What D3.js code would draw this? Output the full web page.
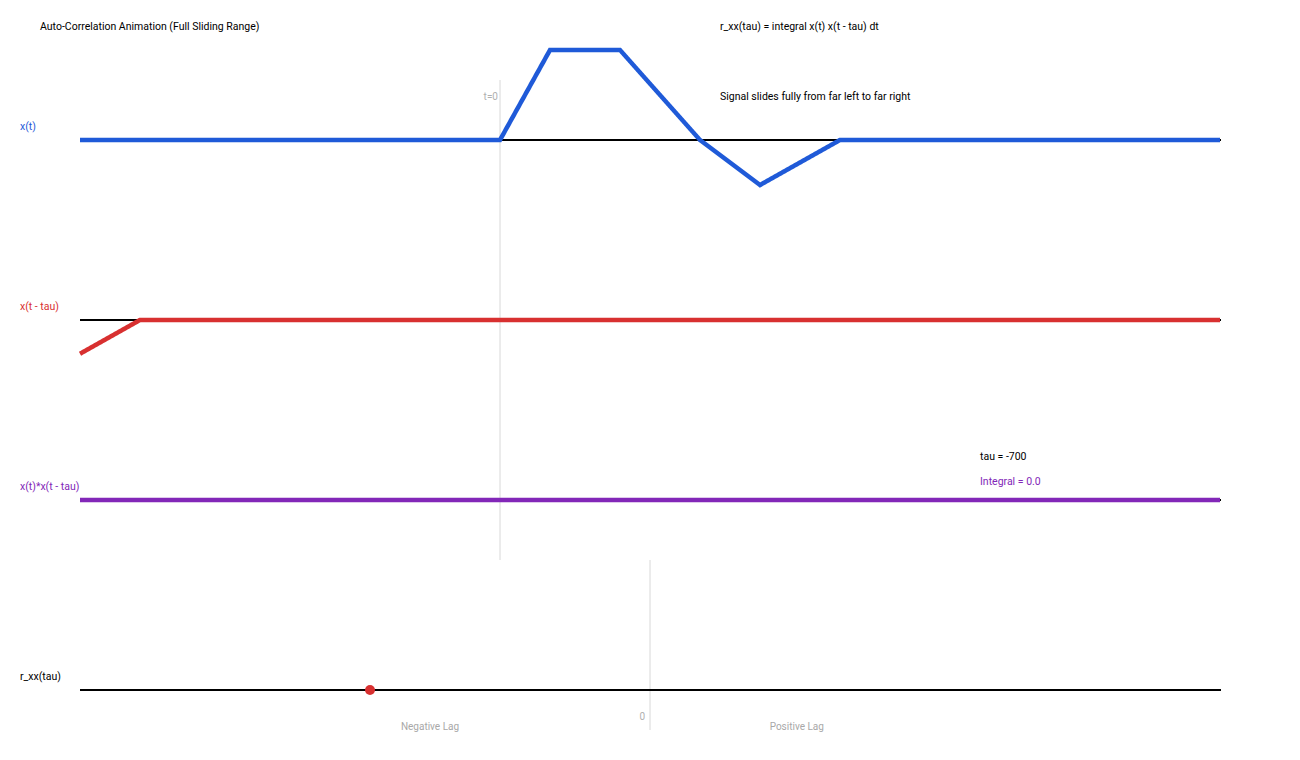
<!DOCTYPE html>
<html><head><meta charset="utf-8">
<script src="https://cdn.jsdelivr.net/npm/d3@7"></script>
<style>body{margin:0;background:#fff}text{font-family:Roboto,"Noto Sans",sans-serif}</style>
</head><body><svg id="c" width="1300" height="760"></svg>
<script>
// Signal breakpoints x(t)
const signalT = [0, 50, 120, 200, 260, 340];
const signalX = [0, 1, 1, 0, -0.5, 0];
const tDomain = [-420, 720];
const tau = -700;
const integralValue = 0.0;
const lagDomain = [-1425, 1425];
const lagLabelPos = [-550, 367];
const rowLabels = ["x(t)", "x(t - tau)", "x(t)*x(t - tau)", "r_xx(tau)"];

const svg = d3.select("#c");
const x = d3.scaleLinear().domain(tDomain).range([80, 1220]);
const ampScale = 90;
const baselines = [140, 320, 500];
const colors = ["#1f5ad8", "#d83030", "#8227b8"];

function sig(t) {
  if (t <= signalT[0] || t >= signalT[signalT.length - 1]) return 0;
  for (let i = 0; i < signalT.length - 1; i++) {
    if (t >= signalT[i] && t <= signalT[i + 1]) {
      const f = (t - signalT[i]) / (signalT[i + 1] - signalT[i]);
      return signalX[i] + f * (signalX[i + 1] - signalX[i]);
    }
  }
  return 0;
}
const ts = d3.range(tDomain[0], tDomain[1] + 1, 1);
const series = [
  ts.map(t => [t, sig(t)]),
  ts.map(t => [t, sig(t - tau)]),
  ts.map(t => [t, sig(t) * sig(t - tau)])
];

// t=0 line
svg.append("line").attr("x1", x(0)).attr("x2", x(0)).attr("y1", 80).attr("y2", 560)
  .attr("stroke", "#d8d8d8").attr("stroke-width", 1);
svg.append("text").attr("x", x(0) - 2).attr("y", 100).attr("text-anchor", "end")
  .attr("font-size", 10).attr("fill", "#b0b0b0").text("t=0");

series.forEach((s, i) => {
  const y = d3.scaleLinear().domain([0, 1]).range([baselines[i], baselines[i] - ampScale]);
  svg.append("line").attr("x1", 80).attr("x2", 1221).attr("y1", baselines[i]).attr("y2", baselines[i])
    .attr("stroke", "#000").attr("stroke-width", 2);
  svg.append("path").datum(s)
    .attr("d", d3.line().x(d => x(d[0])).y(d => y(d[1])))
    .attr("fill", "none").attr("stroke", colors[i]).attr("stroke-width", 4.5)
    .attr("stroke-linejoin", "miter");
  svg.append("text").attr("x", 20).attr("y", baselines[i] - 10).attr("font-size", 10.5)
    .attr("fill", colors[i]).text(rowLabels[i]);
});

// bottom r_xx axis
const lx = d3.scaleLinear().domain(lagDomain).range([80, 1220]);
svg.append("line").attr("x1", lx(0)).attr("x2", lx(0)).attr("y1", 560).attr("y2", 730)
  .attr("stroke", "#d8d8d8").attr("stroke-width", 1);
svg.append("line").attr("x1", 80).attr("x2", 1221).attr("y1", 690).attr("y2", 690)
  .attr("stroke", "#000").attr("stroke-width", 2);
svg.append("text").attr("x", 20).attr("y", 680).attr("font-size", 10.5).attr("fill", "#000").text(rowLabels[3]);
svg.append("circle").attr("cx", lx(tau)).attr("cy", 690 - integralValue).attr("r", 5).attr("fill", "#d83030");
svg.append("text").attr("x", lx(0) - 5).attr("y", 720).attr("text-anchor", "end")
  .attr("font-size", 10).attr("fill", "#b0b0b0").text("0");
svg.append("text").attr("x", lx(lagLabelPos[0])).attr("y", 730).attr("text-anchor", "middle")
  .attr("font-size", 10).attr("fill", "#a8a8a8").text("Negative Lag");
svg.append("text").attr("x", lx(lagLabelPos[1])).attr("y", 730).attr("text-anchor", "middle")
  .attr("font-size", 10).attr("fill", "#a8a8a8").text("Positive Lag");

// annotations
svg.append("text").attr("x", 40).attr("y", 30).attr("font-size", 10.5).text("Auto-Correlation Animation (Full Sliding Range)");
svg.append("text").attr("x", 720).attr("y", 30).attr("font-size", 10.5).text("r_xx(tau) = integral x(t) x(t - tau) dt");
svg.append("text").attr("x", 720).attr("y", 100).attr("font-size", 10.5).text("Signal slides fully from far left to far right");
svg.append("text").attr("x", 980).attr("y", 460).attr("font-size", 10.5).text("tau = " + tau);
svg.append("text").attr("x", 980).attr("y", 485).attr("font-size", 10.5).attr("fill", colors[2])
  .text("Integral = " + integralValue.toFixed(1));
</script></body></html>
